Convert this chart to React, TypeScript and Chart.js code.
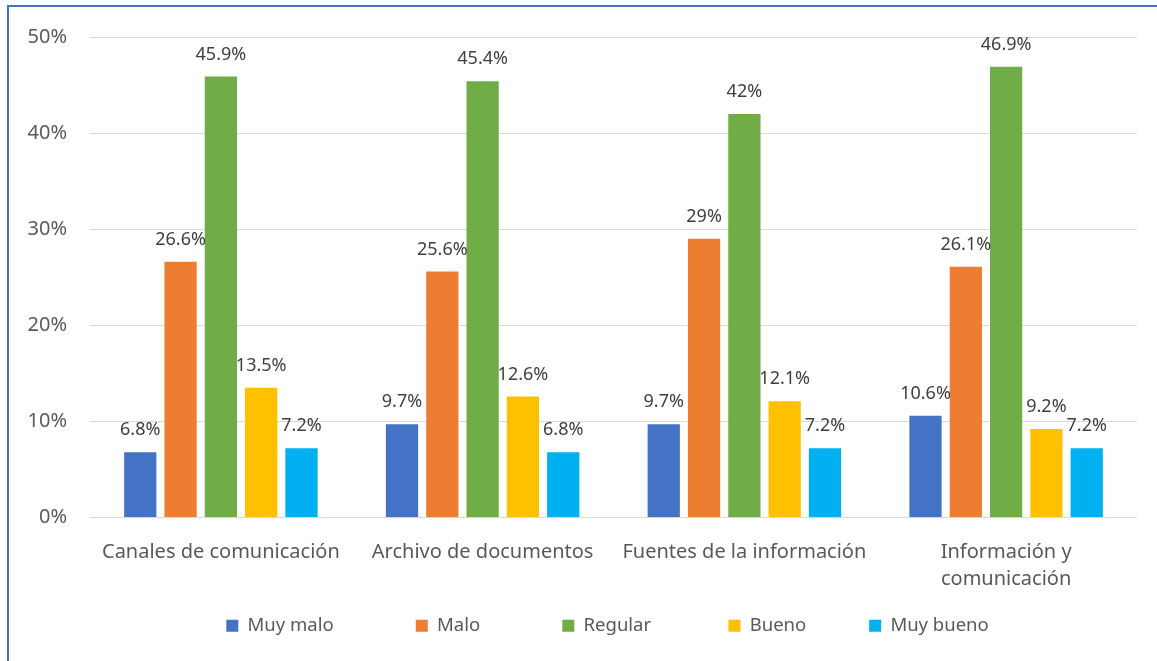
import React, { useEffect, useRef } from "react";
import { Chart, registerables } from "chart.js";

Chart.register(...registerables);

const categories: (string | string[])[] = [
  "Canales de comunicación",
  "Archivo de documentos",
  "Fuentes de la información",
  ["Información y", "comunicación"],
];
const seriesNames = ["Muy malo", "Malo", "Regular", "Bueno", "Muy bueno"];
const muyMalo = [6.8, 9.7, 9.7, 10.6];
const malo = [26.6, 25.6, 29, 26.1];
const regular = [45.9, 45.4, 42, 46.9];
const bueno = [13.5, 12.6, 12.1, 9.2];
const muyBueno = [7.2, 6.8, 7.2, 7.2];
const yTicks = [0, 10, 20, 30, 40, 50];
const colors = ["#4472C4", "#ED7D31", "#70AD47", "#FFC000", "#00B0F0"];
const legendGapSpaces = [15, 15, 14, 11, 0];

const FONT = "'Noto Sans', 'Open Sans', sans-serif";

const dataLabels = {
  id: "dataLabels",
  afterDatasetsDraw(chart: any) {
    const ctx = chart.ctx;
    ctx.save();
    ctx.font = `18px ${FONT}`;
    ctx.fillStyle = "#404040";
    ctx.textAlign = "center";
    ctx.textBaseline = "middle";
    chart.data.datasets.forEach((ds: any, i: number) => {
      const meta = chart.getDatasetMeta(i);
      meta.data.forEach((bar: any, j: number) => {
        ctx.fillText(`${ds.data[j]}%`, bar.x, bar.y - 22);
      });
    });
    ctx.restore();
  },
};

// centre the legend under the plot area rather than the whole canvas
const legendShift = {
  id: "legendShift",
  afterLayout(chart: any) {
    const lg = chart.legend;
    if (lg) {
      const area = chart.chartArea;
      const half = (lg.right - lg.left) / 2;
      const centre = (area.left + area.right) / 2 - 6;
      lg.left = centre - half;
      lg.right = centre + half;
    }
  },
};

export default function App() {
  const ref = useRef<HTMLCanvasElement>(null);
  useEffect(() => {
    if (!ref.current) return;
    const all = [muyMalo, malo, regular, bueno, muyBueno];
    const chart = new Chart(ref.current, {
      type: "bar",
      data: {
        labels: categories,
        datasets: all.map((d, i) => ({
          label: seriesNames[i],
          data: d,
          backgroundColor: colors[i],
          categoryPercentage: 0.77,
          barPercentage: 0.8,
        })),
      },
      options: {
        animation: false,
        responsive: true,
        maintainAspectRatio: false,
        layout: { padding: { top: 37, right: 20, bottom: 16, left: 10 } },
        scales: {
          x: {
            grid: { display: false },
            border: { display: false },
            ticks: {
              color: "#595959",
              font: { family: FONT, size: 20, lineHeight: 1.35 },
              padding: 13,
              maxRotation: 0,
              autoSkip: false,
            },
            afterFit(scale: any) {
              scale.height = 89;
            },
          },
          y: {
            min: 0,
            max: 50,
            afterBuildTicks(scale: any) {
              scale.ticks = yTicks.map((v) => ({ value: v }));
            },
            grid: { color: "#D9D9D9", drawTicks: false, lineWidth: 1 },
            border: { display: false },
            ticks: {
              color: "#595959",
              font: { family: FONT, size: 20 },
              padding: 23,
              callback: (v: any) => `${v}%`,
            },
            afterFit(scale: any) {
              scale.width = 80;
            },
          },
        },
        plugins: {
          legend: {
            position: "bottom",
            labels: {
              color: "#595959",
              font: { family: FONT, size: 18.5 },
              boxWidth: 12,
              boxHeight: 12,
              padding: 10,
              generateLabels(ch: any) {
                const items = Chart.defaults.plugins.legend.labels.generateLabels(ch);
                return items.map((it: any, i: number) => ({
                  ...it,
                  text: it.text + " ".repeat(legendGapSpaces[i] || 0),
                  lineWidth: 0,
                }));
              },
            },
          },
          tooltip: { enabled: false },
        },
      },
      plugins: [dataLabels, legendShift],
    });
    return () => chart.destroy();
  }, []);

  return (
    <div>
      <div
        style={{
          position: "fixed",
          left: 0,
          top: 0,
          width: 1157,
          height: 661,
          background: "#fff",
        }}
      >
        <canvas ref={ref} />
      </div>
      <div
        style={{
          position: "fixed",
          left: 7,
          top: 5,
          width: 1170,
          height: 680,
          border: "2px solid #4472C4",
          pointerEvents: "none",
        }}
      />
    </div>
  );
}
